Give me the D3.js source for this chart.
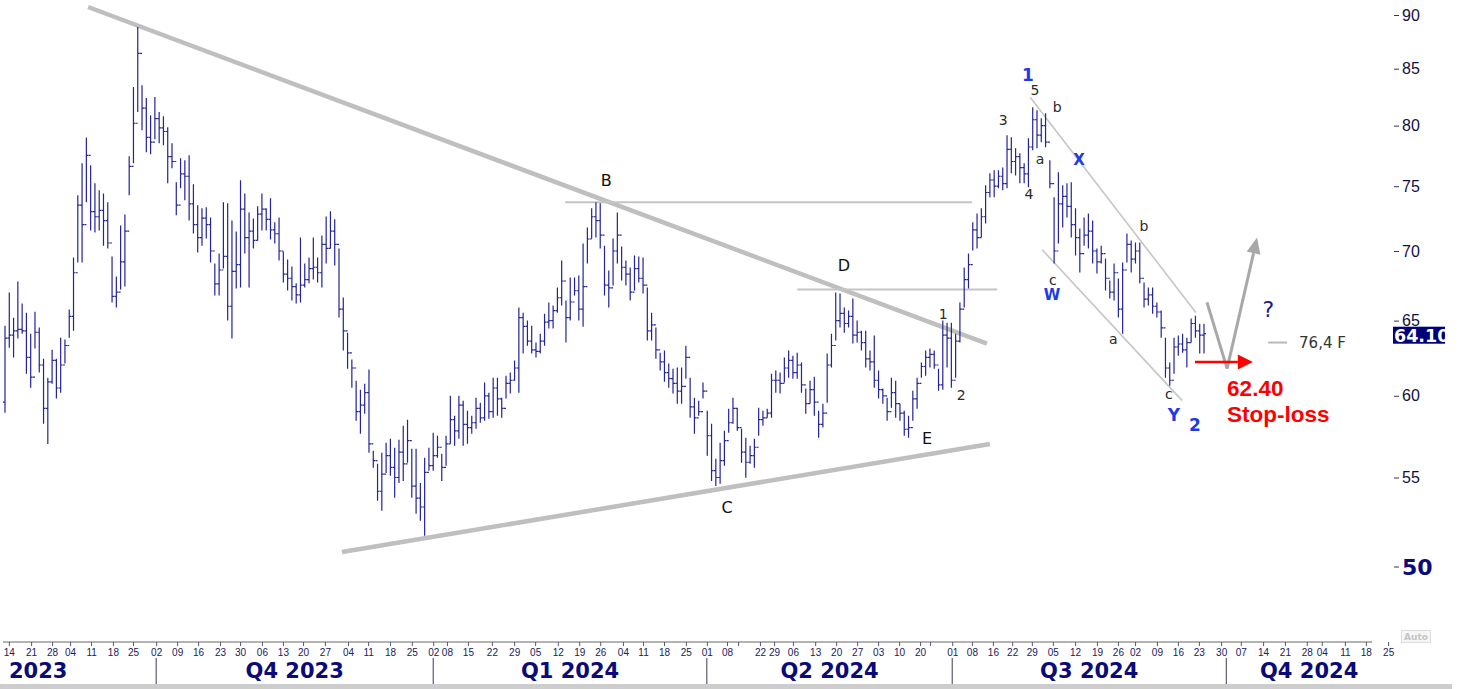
<!DOCTYPE html>
<html>
<head>
<meta charset="utf-8">
<style>
  body { margin: 0; background: #fff; }
  svg { display: block; font-family: "DejaVu Sans", Verdana, sans-serif; }
  .bar { stroke: #23239a; stroke-width: 1.2; fill: none; }
  .axis-y text { fill: #111140; font-size: 16px; }
  .axis-y line { stroke: #333355; }
  .axis-x text { fill: #20205a; font-size: 10px; }
  .axis-x line { stroke: #555577; }
</style>
</head>
<body>
<svg width="1478" height="689"></svg>
<script src="https://d3js.org/d3.v7.min.js"></script>
<script>

// daily bars, index 0 = mid Aug 2023, last = late Sep 2024
var highs = [
  64.65,66.98,65.2,67.77,66.2,65.55,64.1,65.62,64.52,62.42, 61.17,63.02,62.42,63.83,63.7,65.77,69.52,74.28,76.85,79.0,
  76.69,75.23,74.67,74.43,73.73,69.59,68.13,71.93,72.78,77.43, 83.35,88.86,83.52,82.38,80.89,82.47,81.16,80.8,79.86,78.51,
  75.31,77.26,77.1,77.51,75.15,73.49,73.26,73.33,72.55,69.08, 69.82,73.73,73.65,72.32,71.47,75.47,74.43,72.94,72.47,73.41,
  74.43,73.26,74.04,72.17,72.55,69.97,69.37,68.85,67.63,71.01, 69.08,69.52,71.01,69.52,71.17,72.63,73.02,72.4,70.19,66.62,64.17,
  62.36,60.97,60.39,60.78,61.7,56.59,55.81,56.47,57.07,57.31, 56.77,57.25,58.12,58.49,56.71,56.71,54.68,56.17,56.77,57.68,
  57.5,56.41,57.5,60.0,58.74,60.0,59.69,59.05,58.74,59.88, 59.56,60.85,60.2,61.17,61.17,59.88,61.3,61.5,62.29,65.91,
  65.55,65.0,64.65,63.5,64.1,65.48,66.27,66.06,67.33,69.3, 66.41,68.06,68.06,68.2,70.56,71.78,73.26,73.73,
  73.65,70.4,68.56,70.94,72.94,70.34,69.3,68.78,69.67,69.59, 69.52,67.33,65.55,64.52,62.82,62.96,62.1,61.76,61.83,61.83,
  63.29,61.17,59.88,59.69,60.85,59.05,58.24,56.11,57.07,57.81, 59.18,59.88,59.24,57.93,57.37,56.89,57.31,59.24,59.05,59.18,
  61.43,61.63,61.5,62.49,62.96,62.62,62.82,62.16,60.46,60.97, 61.23,59.05,59.5,62.76,64.1,66.98,66.91,65.91,65.7,66.55,
  65.0,64.31,64.31,62.96,63.97,61.63,60.46,59.88,61.17,60.97, 59.5,59.05,58.74,60.33,61.17,62.16,62.96,63.09,62.96,61.76,
  65.0,64.86,64.86,64.1,66.27,68.78,69.82,72.17,72.86,73.26, 75.07,76.04,76.28,76.28,76.52,
  79.18,79.01,78.09,77.68,76.85,78.93,81.59,81.33,80.63,81.07, 77.1,74.12,76.12,75.07,75.23,75.31,73.26,71.7,72.55,72.86,
  72.32,70.19,70.4,69.44,67.84,69.08,67.98,69.15,71.32,70.79, 70.64,70.64,67.7,67.33,67.33,66.27,65.7,63.83,62.16,63.83,
  63.97,64.1,63.83,65.14,65.34,64.79,64.79
];

var lows = [
  58.93,63.15,62.49,63.77,64.1,61.43,60.52,63.09,61.5,58.24, 56.99,60.78,59.82,60.2,62.1,63.83,64.31,69.15,69.15,73.73,
  71.55,71.4,71.55,70.4,70.19,66.27,65.91,67.19,67.41,74.28, 76.85,81.16,79.61,77.76,77.6,78.84,78.51,78.35,75.23,76.44,
  72.71,74.83,73.88,72.32,71.32,69.89,70.4,70.94,69.15,66.76, 66.76,68.71,65.0,63.77,67.26,67.33,69.82,67.33,70.19,70.79,
  71.55,71.55,70.86,70.56,69.3,67.7,67.12,66.41,66.2,66.27, 67.33,67.63,67.91,67.7,67.33,69.08,70.19,68.93,65.21,62.96,61.76,
  60.52,58.43,57.62,58.86,56.47,55.57,53.65,53.08,55.27,55.1, 53.82,54.68,54.8,55.87,53.82,52.91,52.52,51.69,55.39,55.39,
  56.17,54.8,55.69,57.01,56.89,57.31,56.89,57.01,57.62,57.93, 58.3,58.43,58.55,58.61,58.74,58.61,59.82,60.14,60.97,60.2,
  62.76,63.29,62.76,62.49,62.76,63.29,64.45,64.45,65.55,66.06, 63.5,65.0,66.76,65.0,64.58,69.08,70.94,71.01,
  70.19,66.76,65.91,67.48,69.08,67.84,67.48,66.41,67.12,67.7, 66.91,63.63,63.63,62.42,61.63,60.91,60.52,60.14,59.5,59.5,
  61.1,58.61,57.62,58.74,59.82,56.29,54.8,54.51,54.63,55.69, 57.68,58.24,57.81,55.87,54.98,55.81,55.57,57.5,58.12,58.61,
  58.61,60.2,60.14,60.85,61.17,61.1,61.1,60.2,58.86,59.5, 58.74,57.37,58.0,59.56,61.83,63.63,64.52,64.17,64.52,63.43,
  63.5,62.96,61.83,61.63,60.52,59.82,59.5,58.43,59.24,58.61, 58.43,57.5,57.37,58.43,59.18,61.17,61.3,61.83,61.76,60.33,
  60.39,61.83,60.52,61.17,63.5,65.91,67.26,70.04,70.19,71.01, 72.09,74.12,74.12,74.83,74.67,
  74.83,76.04,75.87,75.23,75.23,74.91,77.93,78.09,78.6,78.18, 74.83,69.08,70.56,71.78,72.55,71.01,69.67,68.42,70.4,70.19,
  69.08,68.35,69.08,67.12,66.55,66.41,65.21,64.1,69.15,68.42, 69.08,67.63,65.91,66.06,65.48,65.21,63.83,61.17,60.65,61.43,
  62.62,62.82,61.83,63.5,63.83,62.76,62.76
];

var closes = [
  63.8,64.0,64.3,64.4,64.3,62.5,61.2,64.2,62.0,59.2, 60.9,62.3,60.5,62.0,63.3,65.3,68.4,73.5,72.0,77.5,
  73.0,72.6,73.1,72.3,70.6,66.7,67.0,69.2,71.5,76.6, 80.2,86.4,81.5,79.0,78.6,80.6,79.8,79.5,77.4,77.0,
  73.5,76.0,75.8,73.6,72.0,71.0,72.5,72.0,70.0,67.6, 68.6,69.6,66.0,68.5,69.0,73.2,71.0,71.5,70.8,72.8,
  73.2,72.4,71.6,71.3,70.0,68.3,68.0,67.4,66.8,67.5, 67.9,68.7,68.8,68.4,70.5,70.2,71.5,70.5,65.8,64.3,62.8,
  61.8,59.0,59.4,60.2,57.0,56.0,54.2,55.2,56.3,55.6, 55.0,56.5,55.8,57.2,54.5,53.8,53.3,55.3,55.7,56.3,
  56.8,55.6,57.0,58.5,57.8,59.4,58.2,58.0,58.3,59.2, 58.6,60.0,59.0,60.5,59.8,59.2,60.8,61.0,61.8,65.2,
  64.6,63.6,63.0,62.9,63.6,64.9,65.0,65.7,66.6,67.8, 65.2,66.3,67.1,65.8,67.4,70.9,72.6,72.3,
  71.2,67.5,67.3,70.0,71.2,68.8,68.3,67.0,68.7,68.0, 67.5,64.3,64.7,63.0,62.2,61.5,61.1,60.8,60.3,60.6,
  62.5,59.3,58.6,59.0,60.3,57.5,55.4,55.0,56.0,57.2, 58.3,59.2,58.0,56.5,55.9,56.3,56.8,58.5,58.6,58.9,
  61.0,61.0,60.8,61.8,62.3,61.5,62.0,60.7,59.5,60.4, 59.6,58.2,58.9,62.0,63.3,65.0,65.5,64.8,65.3,64.0,
  64.2,63.5,62.4,62.2,61.0,60.4,60.0,59.0,60.2,59.5, 58.9,57.9,58.0,59.8,60.8,61.9,62.5,62.7,62.0,60.7,
  64.0,63.8,61.0,63.6,65.8,67.9,69.0,71.6,71.0,72.6, 74.5,75.5,75.0,75.8,75.2,
  78.0,77.0,77.4,76.5,76.0,78.2,80.5,79.2,80.0,78.6, 75.2,70.0,73.6,74.2,73.4,72.0,71.0,69.8,71.2,71.5,
  70.0,69.2,69.8,68.0,67.0,68.4,65.8,68.6,70.5,69.4, 70.0,68.0,66.5,66.8,66.0,65.6,64.5,61.8,61.0,63.2,
  63.4,63.0,63.5,64.8,64.3,64.0,64.1
];
var firstOpen = 59.6;
var lastPrice = 64.10;

// x axis: bar index of each weekly label
var dayTickIdx = [0.9,6.1,11,15.2,20.1,25.2,29.9,35.3,40.2,45.1,50.2,54.9,60,64.9,69.6,74.7,80.1,84.8,89.9,95,
  100,103.2,108.1,113.7,118.9,123.8,129.1,134.1,139,144.3,149,153.9,159,163.9,168.6,171.2,176.3,179.6,184,189.2,
  194.1,199,203.9,208.8,213.7,216,221.2,225.8,230.7,235.2,239.8,244.7,249.9,255,259.9,263.9,269,273.9,278.8,
  284,288.6,293.8,298.9,304,307.5,312.9,317.8,323];
var dayTickLabels = ["14","21","28","04","11","18","25","02","09","16","23","30","06","13","20","27","04","11","18","25",
  "02","08","15","22","29","05","12","19","26","04","11","18","25","01","08","","22","29","06","13",
  "20","27","03","10","20","","01","08","16","22","29","05","12","19","26","02","09","16","23",
  "30","07","14","21","28","04","11","18","25"];

var quarterIdx = [35.3, 100, 163.9, 221.2, 285.2];
var quarterLabels = ["2023", "Q4 2023", "Q1 2024", "Q2 2024", "Q3 2024", "Q4 2024"];

var priceTicks = [55, 60, 65, 70, 75, 80, 85, 90];

// drawn studies: [bar index, price]
var triangleUpper = [[19.4, 90.77], [229.3, 63.43]];
var triangleLower = [[78.7, 50.8], [230.0, 57.0]];
var levelB = [[130.8, 73.73], [225.8, 73.73]];
var levelD = [[185.0, 67.19], [231.7, 67.19]];
var channelUpper = [[239.4, 82.46], [278.1, 65.56]];
var channelLower = [[242.2, 70.1], [274.9, 59.69]];
var scenarioPath = [[280.7, 66.27], [285.4, 61.76], [292.4, 71.01]];
var stopArrow = [[277.9, 62.2], [291.4, 62.2]];
var fibMark = [[295.0, 63.5], [299.4, 63.5]];

var triangleLabels = [["B", 140.4, 75.0], ["D", 195.9, 68.49], ["C", 168.6, 52.96], ["E", 215.3, 57.0]];
var minorLabels = [["1", 219.1, 65.14], ["2", 223.3, 59.75], ["3", 233.1, 80.03], ["5", 240.5, 82.64],
  ["4", 239.1, 73.96], ["a", 241.7, 76.77], ["b", 245.7, 81.16], ["c", 244.7, 67.48],
  ["b", 266.0, 71.47], ["a", 258.8, 63.43], ["c", 271.8, 59.82]];
var waveLabels = [["1", 238.9, 83.9], ["W", 244.5, 66.41], ["X", 250.8, 76.69], ["Y", 273.0, 58.43], ["2", 277.9, 57.81]];

var svg = d3.select("svg");
svg.append("rect").attr("width", 1478).attr("height", 689).attr("fill", "#fff");

var x = d3.scaleLinear().domain([0, 280]).range([5, 1204]);
var y = d3.scaleLog().domain([50, 90]).range([567, 15]);

var line = d3.line().x(function(d){ return x(d[0]); }).y(function(d){ return y(d[1]); });

// big triangle
[triangleUpper, triangleLower].forEach(function(p){
  svg.append("path").attr("d", line(p)).attr("stroke", "#bfbfbf").attr("stroke-width", 4.5).attr("fill", "none");
});
[levelB, levelD].forEach(function(p){
  svg.append("path").attr("d", line(p)).attr("stroke", "#c4c4c4").attr("stroke-width", 2).attr("fill", "none");
});
[channelUpper, channelLower].forEach(function(p){
  svg.append("path").attr("d", line(p)).attr("stroke", "#c6c6c6").attr("stroke-width", 1.6).attr("fill", "none");
});

// bars
var bars = svg.append("g");
bars.selectAll("path")
  .data(closes)
  .join("path")
  .attr("class", "bar")
  .attr("d", function(c, i){
    var xi = x(i);
    var o = i === 0 ? firstOpen : closes[i - 1];
    return "M" + xi + "," + y(highs[i]) + "V" + y(lows[i]) +
      "M" + (xi - 2) + "," + y(o) + "H" + xi +
      "M" + xi + "," + y(c) + "H" + (xi + 2);
  });

// scenario arrows
function arrowHead(g, p, color, len, half){
  var a = [x(p[p.length - 2][0]), y(p[p.length - 2][1])];
  var b = [x(p[p.length - 1][0]), y(p[p.length - 1][1])];
  var dx = b[0] - a[0], dy = b[1] - a[1];
  var L = Math.sqrt(dx * dx + dy * dy);
  var ux = dx / L, uy = dy / L;
  var bx = b[0] - ux * len, by = b[1] - uy * len;
  g.append("path")
    .attr("d", "M" + b[0] + "," + b[1] + "L" + (bx - uy * half) + "," + (by + ux * half) +
      "L" + (bx + uy * half) + "," + (by - ux * half) + "Z")
    .attr("fill", color);
  return [bx, by];
}
var ann = svg.append("g");
var sp = scenarioPath.slice();
ann.append("path").attr("d", line(sp.slice(0, 2))).attr("stroke", "#a8a8a8").attr("stroke-width", 3).attr("fill", "none");
var sBase = arrowHead(ann, sp, "#a8a8a8", 16, 7);
ann.append("path")
  .attr("d", "M" + x(sp[1][0]) + "," + y(sp[1][1]) + "L" + sBase[0] + "," + sBase[1])
  .attr("stroke", "#a8a8a8").attr("stroke-width", 3).attr("fill", "none");

var rBase = arrowHead(ann, stopArrow, "#ff0000", 15, 7.5);
ann.append("path")
  .attr("d", "M" + x(stopArrow[0][0]) + "," + y(stopArrow[0][1]) + "H" + rBase[0])
  .attr("stroke", "#ff0000").attr("stroke-width", 2.5);

ann.append("path").attr("d", line(fibMark)).attr("stroke", "#b8b8b8").attr("stroke-width", 2);
ann.append("text").attr("x", x(fibMark[1][0]) + 12).attr("y", y(fibMark[1][1]) + 5)
  .attr("font-size", 15).attr("fill", "#333").text("76,4 F");

// labels
ann.selectAll(".tl").data(triangleLabels).join("text")
  .attr("x", function(d){ return x(d[1]); }).attr("y", function(d){ return y(d[2]); })
  .attr("text-anchor", "middle").attr("font-size", 16).attr("fill", "#111").text(function(d){ return d[0]; });
ann.selectAll(".ml").data(minorLabels).join("text")
  .attr("x", function(d){ return x(d[1]); }).attr("y", function(d){ return y(d[2]); })
  .attr("text-anchor", "middle").attr("font-size", 14).attr("fill", "#2a2a2a").text(function(d){ return d[0]; });
ann.selectAll(".wl").data(waveLabels).join("text")
  .attr("x", function(d){ return x(d[1]); }).attr("y", function(d){ return y(d[2]); })
  .attr("text-anchor", "middle").attr("font-size", function(d){ return (d[0] === "W" || d[0] === "X") ? 15 : 17; })
  .attr("font-weight", "bold").attr("fill", "#1d3ae6").text(function(d){ return d[0]; });

ann.append("text").attr("x", x(295)).attr("y", y(65.28)).attr("text-anchor", "middle")
  .attr("font-size", 22).attr("fill", "#1c1c8a").text("?");
ann.append("text").attr("x", x(285.4)).attr("y", y(60.01))
  .attr("font-family", "'Liberation Sans', Arial, sans-serif").attr("font-weight", "bold")
  .attr("font-size", 22.5).attr("fill", "#ff0000").text("62.40");
ann.append("text").attr("x", x(285.4)).attr("y", y(58.37))
  .attr("font-family", "'Liberation Sans', Arial, sans-serif").attr("font-weight", "bold")
  .attr("font-size", 22.5).attr("fill", "#ff0000").text("Stop-loss");

// price axis
var yAxis = svg.append("g").attr("class", "axis-y").attr("transform", "translate(1394,0)")
  .call(d3.axisRight(y).tickValues(priceTicks).tickSize(5).tickPadding(3).tickFormat(d3.format("d")));
yAxis.select(".domain").remove();
var fifty = svg.append("g").attr("transform", "translate(1394," + y(50) + ")");
fifty.append("line").attr("x2", 5).attr("stroke", "#333355");
fifty.append("text").attr("x", 8).attr("dy", "0.35em").attr("font-size", 22).attr("font-weight", "bold")
  .attr("fill", "#0a0a78").text("50");

// last price box
var yl = y(lastPrice);
svg.append("clipPath").attr("id", "lp").append("rect")
  .attr("x", 1393).attr("y", yl - 7).attr("width", 52).attr("height", 17);
svg.append("rect").attr("x", 1393).attr("y", yl - 7).attr("width", 52).attr("height", 17).attr("fill", "#00007a");
svg.append("text").attr("clip-path", "url(#lp)").attr("x", 1394).attr("y", yl + 8)
  .attr("font-size", 17.5).attr("font-weight", "bold").attr("fill", "#fff").text(d3.format(".2f")(lastPrice));

// time axis
svg.append("line").attr("x1", 3).attr("x2", 1372).attr("y1", 642).attr("y2", 642).attr("stroke", "#666");
var xAxis = svg.append("g").attr("class", "axis-x").attr("transform", "translate(0,642)")
  .call(d3.axisBottom(x).tickValues(dayTickIdx).tickSize(4).tickPadding(3)
    .tickFormat(function(d, i){ return dayTickLabels[i]; }));
xAxis.select(".domain").remove();

svg.selectAll(".qline").data(quarterIdx).join("line")
  .attr("x1", function(d){ return x(d); }).attr("x2", function(d){ return x(d); })
  .attr("y1", 658).attr("y2", 684).attr("stroke", "#3a3a5e");

var qEdges = [x(-28)].concat(quarterIdx.map(function(d){ return x(d); })).concat([1392]);
var qText = svg.append("g").attr("font-size", 21).attr("font-weight", "bold").attr("fill", "#0a0a78");
quarterLabels.forEach(function(lbl, i){
  var t = qText.append("text").attr("y", 678).attr("text-anchor", "middle").text(lbl);
  var w = t.node().getComputedTextLength();
  var cx = (qEdges[i] + qEdges[i + 1]) / 2;
  cx = Math.max(cx, 9 + w / 2);
  t.attr("x", cx);
});

// bottom strip and auto button
svg.append("rect").attr("x", 0).attr("y", 684).attr("width", 1452).attr("height", 5).attr("fill", "#cdcdcd");
svg.append("rect").attr("x", 1401.5).attr("y", 630.5).attr("width", 29).attr("height", 12)
  .attr("fill", "#f6f6f6").attr("stroke", "#dddddd");
svg.append("text").attr("x", 1416).attr("y", 640).attr("text-anchor", "middle").attr("font-size", 9)
  .attr("font-weight", "bold").attr("fill", "#c4c4c4").text("Auto");

</script>
</body>
</html>
